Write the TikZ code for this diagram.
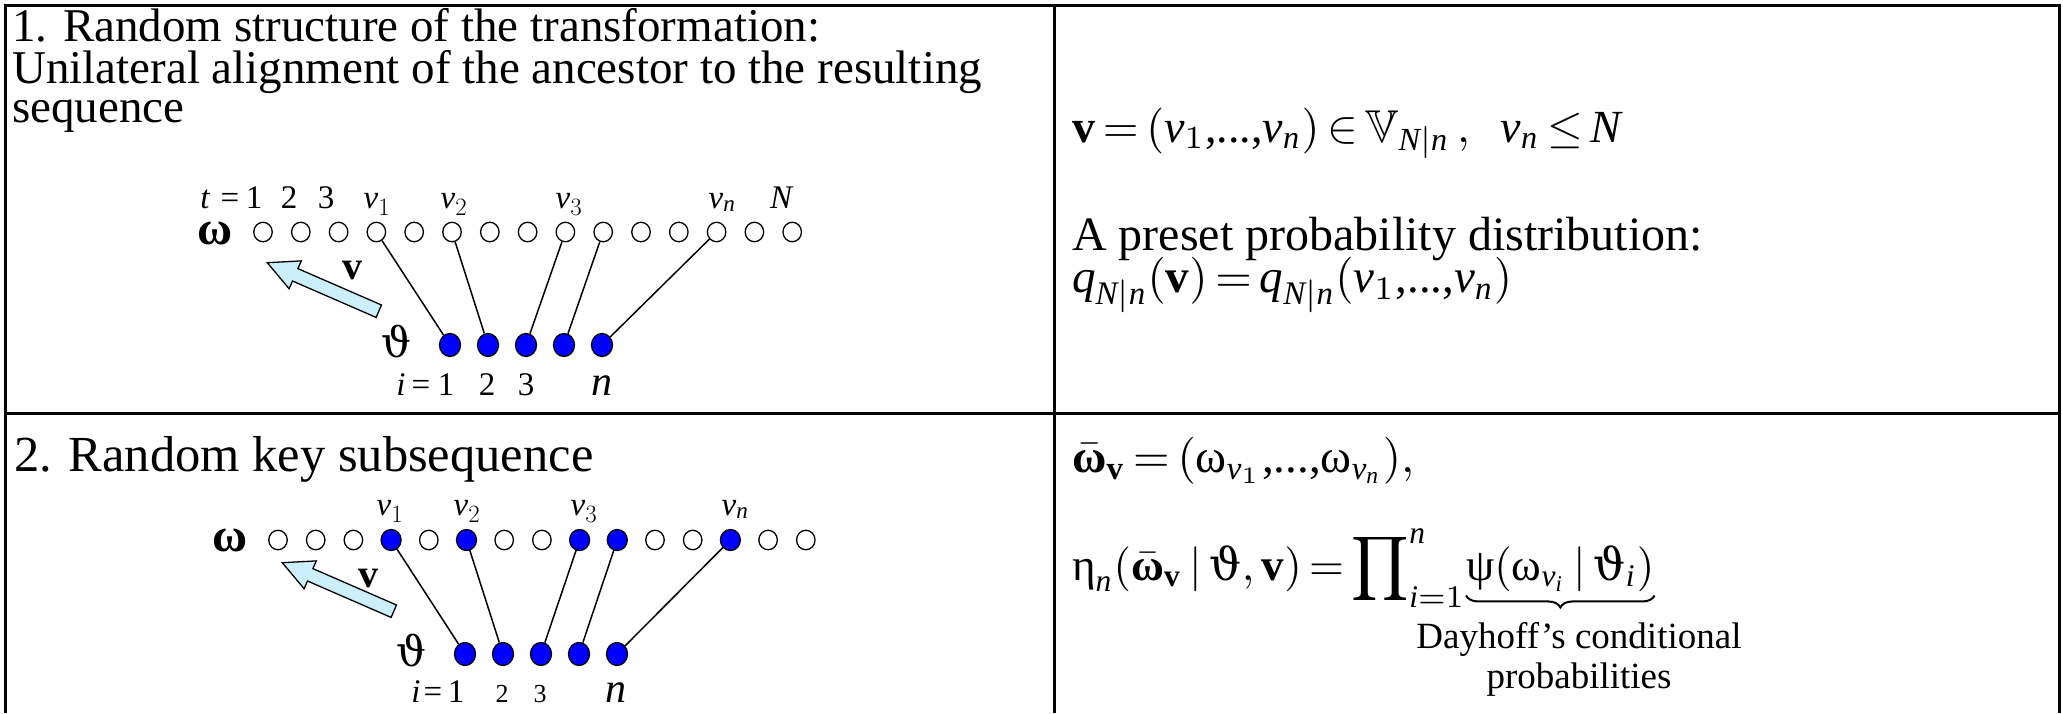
\documentclass[tikz,border=0pt]{standalone}
\usepackage{graphicx}
\usepackage{amsmath,amssymb}
\usepackage{fontspec}
\setmainfont{Liberation Serif}
\newfontfamily\dvs{DejaVu Serif}
\usetikzlibrary{shapes.geometric,decorations.pathreplacing}
\newcommand\iv{\text{\itshape v}}
\newcommand\bv{\text{\bfseries v}}
\newcommand\iN{\text{\itshape N}}
\newcommand\inn{\text{\itshape n}}
\newcommand\iq{\text{\itshape q}}
\newcommand\ii{\text{\itshape i}}
\newcommand\gom{\text{ω}}
\newcommand\bom{\text{\bfseries ω}}
\newcommand\geta{\text{η}}
\newcommand\gpsi{\text{ψ}}
\newcommand\gth{\text{\dvs ϑ}}
\newcommand\dts{\text{,...,}}
\newcommand\eqn[2][4.7]{\scalebox{#1}{\fontsize{10}{12}\selectfont\thickmuskip=3mu plus 2mu\medmuskip=2mu #2}}
\begin{document}
\begin{tikzpicture}[x=1pt,y=-1pt,
  wc/.style={draw,ellipse,fill=white,minimum width=18.5pt,minimum height=19.5pt,inner sep=0pt,line width=1.3pt},
  bc/.style={draw,ellipse,fill=blue,minimum width=21pt,minimum height=23pt,inner sep=0pt,line width=1.3pt},
  link/.style={line width=1.5pt},
  frameline/.style={line width=3pt},
  lbl/.style={font=\fontsize{33}{35}\selectfont,anchor=base,inner sep=0pt},
  smalllbl/.style={font=\fontsize{26}{28}\selectfont,anchor=base,inner sep=0pt},
  big/.style={font=\fontsize{47}{42}\selectfont,anchor=base west,inner sep=0pt,align=left},
  txt/.style={font=\fontsize{48}{50}\selectfont,anchor=base west,inner sep=0pt},
  note/.style={font=\fontsize{37}{40}\selectfont,anchor=north,inner sep=0pt,align=center},
  sym/.style={inner sep=0pt},
  arrowfill/.style={draw,fill=cyan!20,line width=1.3pt,line join=miter}]
\useasboundingbox (0,0) rectangle (2063,713);
% table frame
\draw[frameline] (5,713) -- (5,5) -- (2059,5) -- (2059,713);
\draw[frameline] (1054,5) -- (1054,713);
\draw[frameline] (5,413) -- (2059,413);
% ---------- panel 1 text
\node[big] (h1a) at (12,41) {1. Random structure of the transformation:};
\node[big] (h1b) at (12,83) {Unilateral alignment of the ancestor to the resulting};
\node[big] (h1c) at (12,122) {sequence};
% ---------- panel 1 diagram
\foreach \k in {1,...,15} \node[wc] (a\k) at ({263+37.8*(\k-1)},232) {};
\foreach \j in {1,...,5} \node[bc] (p\j) at ({450+38*(\j-1)},345) {};
\draw[link] (a4)--(p1) (a6)--(p2) (a9)--(p3) (a10)--(p4) (a13)--(p5);
\node[sym,font=\fontsize{48}{48}\selectfont] (om1) at (215,233) {\bom};
\node[sym,font=\fontsize{42}{42}\selectfont\dvs] (th1) at (397,341) {ϑ};
\node[lbl] (t1) at (205,208) {\itshape t};
\node[lbl] (eq1) at (230,208) {=};
\node[lbl] (n11) at (254,208) {1};
\node[lbl] (n12) at (289,208) {2};
\node[lbl] (n13) at (326,208) {3};
\node[lbl] (v11) at (377,208) {$\iv_1$};
\node[lbl] (v12) at (454,208) {$\iv_2$};
\node[lbl] (v13) at (569,208) {$\iv_3$};
\node[lbl] (v1n) at (722,208) {$\iv_{\inn}$};
\node[lbl] (N1) at (781,208) {\itshape N};
\node[lbl] (i1) at (401,395) {\itshape i};
\node[lbl] (ie1) at (421,395) {=};
\node[lbl] (i11) at (446,395) {1};
\node[lbl] (i12) at (487,395) {2};
\node[lbl] (i13) at (526,395) {3};
\node[lbl,font=\fontsize{42}{42}\selectfont] (i1n) at (602,395) {\itshape n};
\draw[arrowfill] (267.3,262.7) -- (301.3,260.9) -- (297.9,268.6) -- (381.5,305.0) -- (376.1,317.4) -- (292.5,281.0) -- (289.1,288.7) -- cycle;
\node[sym,font=\fontsize{40}{40}\selectfont\bfseries] (bv1) at (352,271) {v};
% ---------- panel 2 text
\node[big,font=\fontsize{50.5}{50}\selectfont] (h2) at (14,471) {2. Random key subsequence};
% ---------- panel 2 diagram
\foreach \k in {1,...,15} \node[wc] (b\k) at ({278+37.7*(\k-1)},540) {};
\foreach \k in {4,6,9,10,13} \node[bc,minimum width=20pt,minimum height=21pt] at (b\k) {};
\foreach \j in {1,...,5} \node[bc] (q\j) at ({465+38*(\j-1)},654) {};
\draw[link] (b4)--(q1) (b6)--(q2) (b9)--(q3) (b10)--(q4) (b13)--(q5);
\node[sym,font=\fontsize{48}{48}\selectfont] (om2) at (230,540) {\bom};
\node[sym,font=\fontsize{42}{42}\selectfont\dvs] (th2) at (412,650) {ϑ};
\node[lbl] (v21) at (390,515) {$\iv_1$};
\node[lbl] (v22) at (467,515) {$\iv_2$};
\node[lbl] (v23) at (584,515) {$\iv_3$};
\node[lbl] (v2n) at (735,515) {$\iv_{\inn}$};
\node[lbl] (i2) at (416,702) {\itshape i};
\node[lbl] (ie2) at (433,702) {=};
\node[lbl] (i21) at (456,702) {1};
\node[smalllbl] (i22) at (502,702) {2};
\node[smalllbl] (i23) at (540,702) {3};
\node[lbl,font=\fontsize{42}{42}\selectfont] (i2n) at (616,702) {\itshape n};
\draw[arrowfill,shift={(15,300)}] (267.3,262.7) -- (301.3,260.9) -- (297.9,268.6) -- (381.5,305.0) -- (376.1,317.4) -- (292.5,281.0) -- (289.1,288.7) -- cycle;
\node[sym,font=\fontsize{40}{40}\selectfont\bfseries] (bv2) at (368,579) {v};
% ---------- right panel 1
\node[txt] (r1) at (1072,142) {\eqn[4.6]{$\bv=(\iv_1\dts\iv_{\inn})\in\mathbb{V}_{\iN|\inn}\,,\ \ \iv_{\inn}\le\iN$}};
\node[txt] (r2) at (1072,250) {A preset probability distribution:};
\node[txt] (r3) at (1072,292) {\eqn{$\iq_{\iN|\inn}(\bv)=\iq_{\iN|\inn}(\iv_1\dts\iv_{\inn})$}};
% ---------- right panel 2
\node[txt] (r4) at (1072,472) {\eqn{$\bar{\bom}_{\bv}=(\gom_{\iv_1}\dts\gom_{\iv_{\inn}}),$}};
\node[txt] (r5) at (1072,580) {\eqn[4.5]{$\geta_{\inn}(\bar{\bom}_{\bv}\mid\gth,\bv)=\displaystyle\prod\nolimits_{\ii=1}^{\inn}$}};
\node[txt] (r6) at (r5.base east) {\eqn[4.5]{$\gpsi(\gom_{\iv_{\ii}}\mid\gth_{\ii})$}};
\draw[decorate,decoration={brace,mirror,amplitude=12pt},line width=2pt] ([yshift=-4pt]r6.south west) -- ([yshift=-4pt]r6.south east) coordinate[midway] (br);
\node[note] (dh) at (1579,622) {Dayhoff’s conditional\\probabilities};
\end{tikzpicture}
\end{document}
